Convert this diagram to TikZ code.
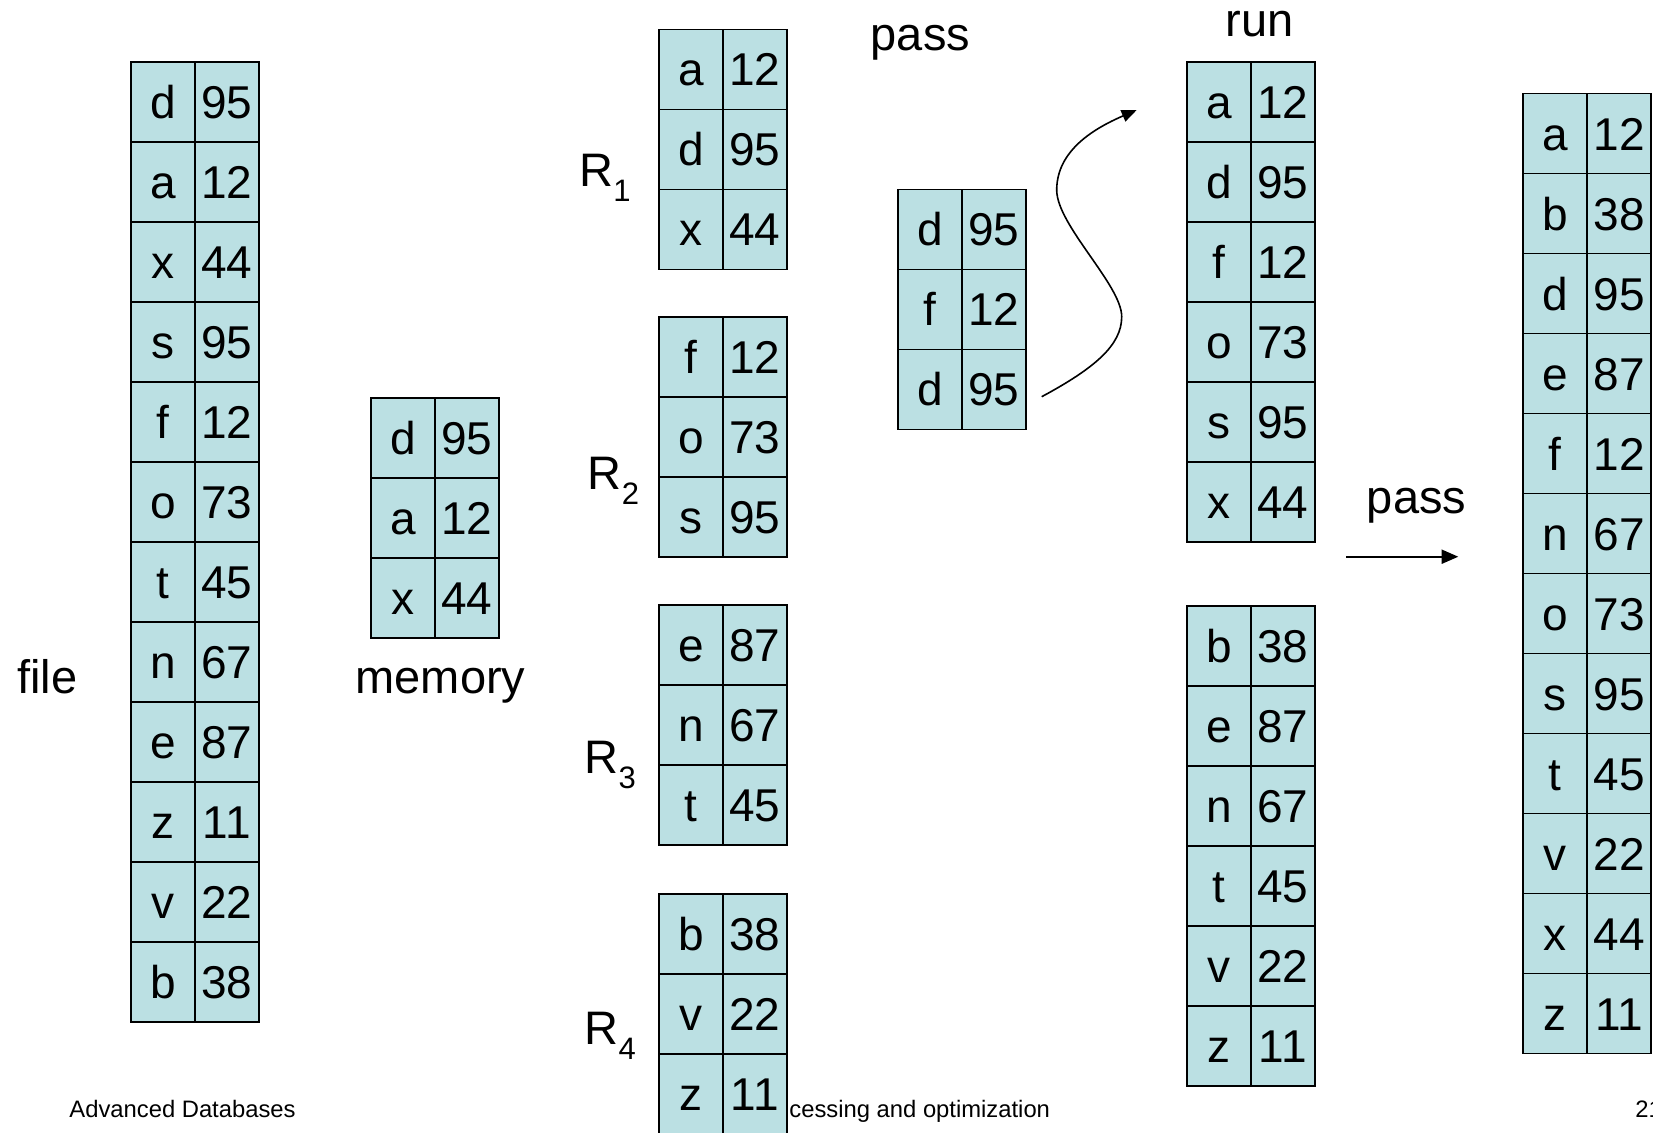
\documentclass[tikz,border=0pt]{standalone}
\usepackage{fontspec}
\setmainfont{Liberation Sans}
\usetikzlibrary{arrows.meta}

\definecolor{cellblue}{RGB}{187,224,227}
\newcommand{\cellfont}{\fontsize{23}{27}\selectfont}
\newcommand{\lblfont}{\fontsize{23.5}{28}\selectfont}
\newcommand{\footfont}{\fontsize{11.9}{14}\selectfont}
\newcommand{\rsub}[1]{R\raisebox{-7.5pt}{\fontsize{15.5}{16}\selectfont #1}}

\tikzset{
  cell/.style={draw,line width=0.8pt,fill=cellblue,minimum width=32pt,minimum height=40pt,
    inner sep=0pt,anchor=north west,font=\cellfont,text height=16.4pt,text depth=0pt},
  lbl/.style={font=\lblfont,inner sep=0pt,anchor=base},
  rlbl/.style={font=\lblfont,inner sep=0pt,anchor=base west},
  foot/.style={font=\footfont,inner sep=0pt,anchor=base west},
}

\begin{document}
\begin{tikzpicture}[x=0.5pt,y=-0.5pt]
\useasboundingbox (0,0) rectangle (1653,1132);
% footer
\node[foot] (foot1) at (69,1117.7) {Advanced Databases};
\node[foot] (foot2) at (789,1117.7) {cessing and optimization};
\node[foot] (foot3) at (1635,1117.7) {21};
% file
\foreach \k/\v [count=\i from 0] in {d/95,a/12,x/44,s/95,f/12,o/73,t/45,n/67,e/87,z/11,v/22,b/38}{
  \node[cell] (file-k\i) at (130,{61+80*\i}) {\k};
  \node[cell] (file-v\i) at (194,{61+80*\i}) {\v};
}
\node[lbl] (file) at (47.2,693.3) {file};
% memory
\foreach \k/\v [count=\i from 0] in {d/95,a/12,x/44}{
  \node[cell] (mem-k\i) at (370,{397.4+80*\i}) {\k};
  \node[cell] (mem-v\i) at (434,{397.4+80*\i}) {\v};
}
\node[lbl] (memory) at (440.5,693.3) {memory};
% runs R1..R4
\foreach \k/\v [count=\i from 0] in {a/12,d/95,x/44}{
  \node[cell] (r1-k\i) at (658,{28.5+80*\i}) {\k};
  \node[cell] (r1-v\i) at (722,{28.5+80*\i}) {\v};
}
\foreach \k/\v [count=\i from 0] in {f/12,o/73,s/95}{
  \node[cell] (r2-k\i) at (658,{316.3+80*\i}) {\k};
  \node[cell] (r2-v\i) at (722,{316.3+80*\i}) {\v};
}
\foreach \k/\v [count=\i from 0] in {e/87,n/67,t/45}{
  \node[cell] (r3-k\i) at (658,{604+80*\i}) {\k};
  \node[cell] (r3-v\i) at (722,{604+80*\i}) {\v};
}
\foreach \k/\v [count=\i from 0] in {b/38,v/22,z/11}{
  \node[cell] (r4-k\i) at (658,{892.9+80*\i}) {\k};
  \node[cell] (r4-v\i) at (722,{892.9+80*\i}) {\v};
}
\node[rlbl] (R1) at (579,186.7) {\rsub{1}};
\node[rlbl] (R2) at (587.4,489.3) {\rsub{2}};
\node[rlbl] (R3) at (584.3,773.9) {\rsub{3}};
\node[rlbl] (R4) at (584.3,1044.8) {\rsub{4}};
% first pass
\foreach \k/\v [count=\i from 0] in {d/95,f/12,d/95}{
  \node[cell] (pass-k\i) at (897,{188.7+80*\i}) {\k};
  \node[cell] (pass-v\i) at (961,{188.7+80*\i}) {\v};
}
\node[lbl] (pass1) at (920.4,50) {pass};
\coordinate (sStart) at (1041.7,396.7);
\coordinate (sEnd) at (1136.7,110);
\draw[line width=0.8pt,-{Triangle[length=7.5pt,width=6pt]}] (sStart)
  .. controls (1095,368) and (1121.7,345) .. (1121.7,316.7)
  .. controls (1121.7,285) and (1056.7,225) .. (1056.7,190)
  .. controls (1056.7,150) and (1095,128) .. (sEnd);
% merged runs
\foreach \k/\v [count=\i from 0] in {a/12,d/95,f/12,o/73,s/95,x/44}{
  \node[cell] (run1-k\i) at (1186,{61.1+80*\i}) {\k};
  \node[cell] (run1-v\i) at (1250,{61.1+80*\i}) {\v};
}
\foreach \k/\v [count=\i from 0] in {b/38,e/87,n/67,t/45,v/22,z/11}{
  \node[cell] (run2-k\i) at (1186,{605.1+80*\i}) {\k};
  \node[cell] (run2-v\i) at (1250,{605.1+80*\i}) {\v};
}
\node[lbl] (run) at (1259.5,36.7) {run};
% second pass
\node[lbl] (pass2) at (1416.5,513.3) {pass};
\coordinate (passA) at (1346,556.7);
\coordinate (passB) at (1458.3,556.7);
\draw[line width=0.9pt,-{Triangle[length=8.3pt,width=7pt]}] (passA) -- (passB);
% sorted file
\foreach \k/\v [count=\i from 0] in {a/12,b/38,d/95,e/87,f/12,n/67,o/73,s/95,t/45,v/22,x/44,z/11}{
  \node[cell] (out-k\i) at (1522.3,{92.8+80*\i}) {\k};
  \node[cell] (out-v\i) at (1586.3,{92.8+80*\i}) {\v};
}
\end{tikzpicture}
\end{document}
